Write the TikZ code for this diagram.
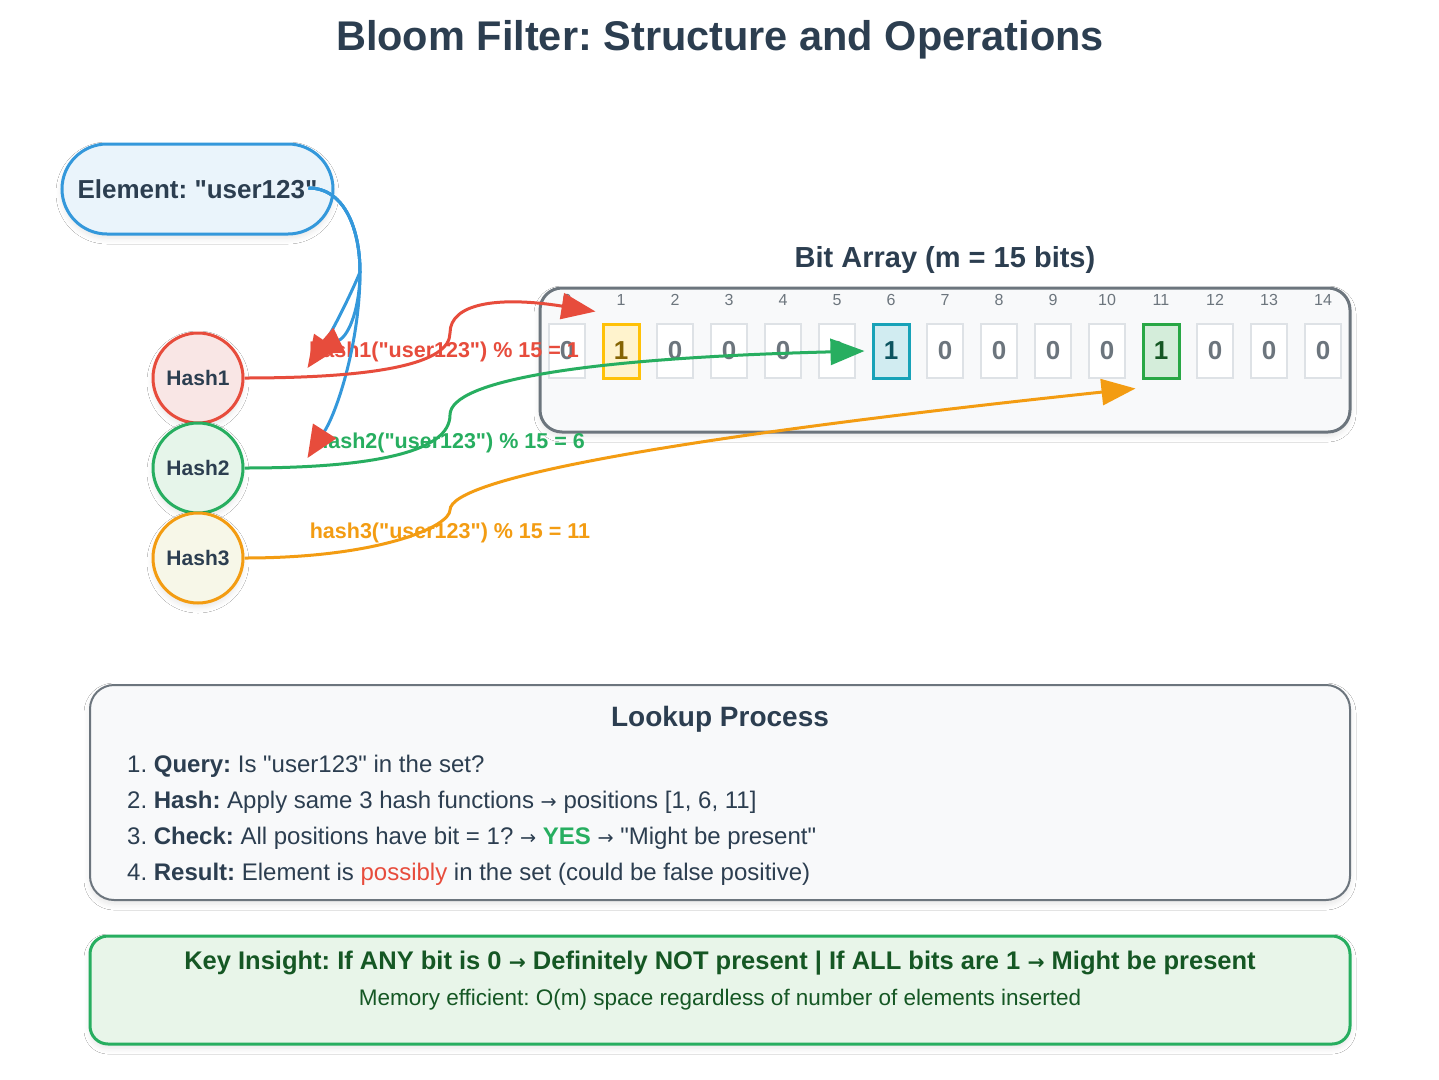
\documentclass[tikz,border=0pt]{standalone}
\usepackage{fontspec}
\usepackage{graphicx}
\setmainfont{Liberation Sans}[Ligatures=TeXOff]
\newfontfamily\arrfont{DejaVu Sans}
\usetikzlibrary{arrows.meta,calc,shadows.blur}
\definecolor{ink}{HTML}{2C3E50}
\definecolor{eblue}{HTML}{3498DB}
\definecolor{efill}{HTML}{EAF4FB}
\definecolor{hred}{HTML}{E74C3C}
\definecolor{hredfill}{HTML}{F9E6E5}
\definecolor{hgreen}{HTML}{27AE60}
\definecolor{hgreenfill}{HTML}{E6F5EA}
\definecolor{horange}{HTML}{F39C12}
\definecolor{horangefill}{HTML}{F7F7E8}
\definecolor{boxgray}{HTML}{6C757D}
\definecolor{boxfill}{HTML}{F8F9FA}
\definecolor{cellgray}{HTML}{DEE2E6}
\definecolor{keyfill}{HTML}{E8F5E9}
\definecolor{keyink}{HTML}{155724}
\newcommand{\rarr}{\scalebox{0.8}{\arrfont →}}
\frenchspacing

\begin{document}
\begin{tikzpicture}[x=1pt,y=-1pt,
  every node/.style={text=ink},
  soft/.style={blur shadow={shadow xshift=0pt,shadow yshift=-4pt,shadow blur radius=6pt,shadow blur steps=6,shadow opacity=10}},
  ttl/.style={font=\fontsize{41.5}{48}\selectfont\bfseries},
  sub/.style={font=\fontsize{#1}{32}\selectfont\bfseries},
  elem/.style={soft,draw=eblue,fill=efill,line width=3pt,rounded corners=45pt,minimum width=271pt,minimum height=90pt,font=\fontsize{26}{30}\selectfont\bfseries},
  hashnode/.style 2 args={soft,circle,draw=#1,fill=#2,line width=3pt,minimum size=90pt,inner sep=0pt,font=\fontsize{21}{24}\selectfont\bfseries},
  bitbox/.style={soft,draw=boxgray,fill=boxfill,line width=3pt,rounded corners=22pt,minimum width=810pt,minimum height=144pt},
  idx/.style={font=\fontsize{16}{18}\selectfont,text=boxgray},
  zero/.style={draw=cellgray,fill=white,line width=2pt,minimum width=36pt,minimum height=54pt,inner sep=0pt,font=\fontsize{26}{28}\selectfont\bfseries,text=boxgray},
  hitA/.style={zero,draw=HitAline,fill=HitAfill,line width=3pt,text=HitAtext},
  hitB/.style={zero,draw=HitBline,fill=HitBfill,line width=3pt,text=HitBtext},
  hitC/.style={zero,draw=HitCline,fill=HitCfill,line width=3pt,text=HitCtext},
  lab/.style={font=\fontsize{21.5}{24}\selectfont\bfseries,text=#1},
  link/.style={line width=3pt,draw=#1,-{Triangle[length=34pt,width=26pt,color=#1]}},
  feed/.style={line width=3pt,draw=eblue,-{Triangle[length=32pt,width=27pt,color=hred]}},
  row/.style={anchor=west,inner sep=0pt,font=\fontsize{24}{28}\selectfont},
  panel/.style={soft,draw=boxgray,fill=boxfill,line width=2pt,rounded corners=24pt,minimum width=1260pt,minimum height=215pt}]
\definecolor{HitAline}{HTML}{FFC107}\definecolor{HitAfill}{HTML}{FFF3CD}\definecolor{HitAtext}{HTML}{856404}
\definecolor{HitBline}{HTML}{17A2B8}\definecolor{HitBfill}{HTML}{D1ECF1}\definecolor{HitBtext}{HTML}{0C5460}
\definecolor{HitCline}{HTML}{28A745}\definecolor{HitCfill}{HTML}{D4EDDA}\definecolor{HitCtext}{HTML}{155724}
\useasboundingbox (0,0) rectangle (1439,1079);
\fill[white] (0,0) rectangle (1439,1079);

\node[ttl] (title) at (720,40) {Bloom Filter: Structure and Operations};

% element and hash functions
\node[elem] (elem) at (197.5,189) {Element: "user123"};
\node[hashnode={hred}{hredfill}] (h1) at (198,378) {Hash1};
\node[hashnode={hgreen}{hgreenfill}] (h2) at (198,468) {Hash2};
\node[hashnode={horange}{horangefill}] (h3) at (198,558) {Hash3};

% bit array
\node[sub=29] (arrtitle) at (945,260) {Bit Array (m = 15 bits)};
\node[bitbox] (arr) at (945,360) {};
\foreach \i/\b/\st in {0/0/zero,1/1/hitA,2/0/zero,3/0/zero,4/0/zero,5/0/zero,6/1/hitB,7/0/zero,
    8/0/zero,9/0/zero,10/0/zero,11/1/hitC,12/0/zero,13/0/zero,14/0/zero} {
  \node[idx] (n\i) at (567+54*\i,300) {\i};
  \node[\st] (c\i) at (567+54*\i,351) {\b};
}

\node[lab=hred] (l1) at (444,352) {hash1("user123") \% 15 = 1};
\node[lab=hgreen] (l2) at (450,443) {hash2("user123") \% 15 = 6};
\node[lab=horange] (l3) at (450,533) {hash3("user123") \% 15 = 11};

\coordinate (bs) at ($(elem.east)+(-26,-1)$);
\coordinate (ba) at ($(h1.east)+(63,-10)$);
\coordinate (bb) at ($(h1.east)+(66,-24)$);
\coordinate (bc) at ($(h2.east)+(63,-10)$);
\draw[feed] (bs) .. controls (345,188) and (360,230) .. (360,272) .. controls (352,292) and (332,332) .. (ba);
\draw[feed] (bs) .. controls (345,188) and (360,230) .. (360,272) .. controls (360,305) and (350,335) .. (bb);
\draw[feed] (bs) .. controls (345,188) and (360,230) .. (360,272) .. controls (360,340) and (338,410) .. (bc);

\draw[link=hred] (h1.east) .. controls (381,378) and (450,363) .. (450,333) .. controls (450,303) and (499,296) .. ($(c1.north west)+(-6,-11)$);
\draw[link=hgreen] (h2.east) .. controls (381,468) and (450,450) .. (450,415) .. controls (450,380) and (589,358) .. ($(c6.west)+(-7,0)$);
\draw[link=horange] (h3.east) .. controls (381,558) and (450,526) .. (450,510) .. controls (450,478) and (679,437) .. ($(c11.south west)+(-6,9)$);

% lookup
\node[panel] (look) at (720,792.5) {};
\node[sub=28] (looktitle) at (720,719) {Lookup Process};
\node[row] (r1) at (127,766) {1. \textbf{Query:} Is "user123" in the set?};
\node[row] (r2) at (127,802) {2. \textbf{Hash:} Apply same 3 hash functions \rarr{} positions [1, 6, 11]};
\node[row] (r3) at (127,838) {3. \textbf{Check:} All positions have bit = 1? \rarr{} \textcolor{hgreen}{\textbf{YES}} \rarr{} "Might be present"};
\node[row] (r4) at (127,874) {4. \textbf{Result:} Element is \textcolor{hred}{possibly} in the set (could be false positive)};

% insight
\node[soft,draw=hgreen,fill=keyfill,line width=3pt,rounded corners=18pt,minimum width=1260pt,minimum height=108pt] (key) at (720,990) {};
\node[font=\fontsize{25.5}{28}\selectfont\bfseries,text=keyink] (k1) at (720,963) {Key Insight: If ANY bit is 0 \rarr{} Definitely NOT present | If ALL bits are 1 \rarr{} Might be present};
\node[font=\fontsize{22.5}{26}\selectfont,text=keyink] (k2) at (720,1000) {Memory efficient: O(m) space regardless of number of elements inserted};
\end{tikzpicture}
\end{document}
